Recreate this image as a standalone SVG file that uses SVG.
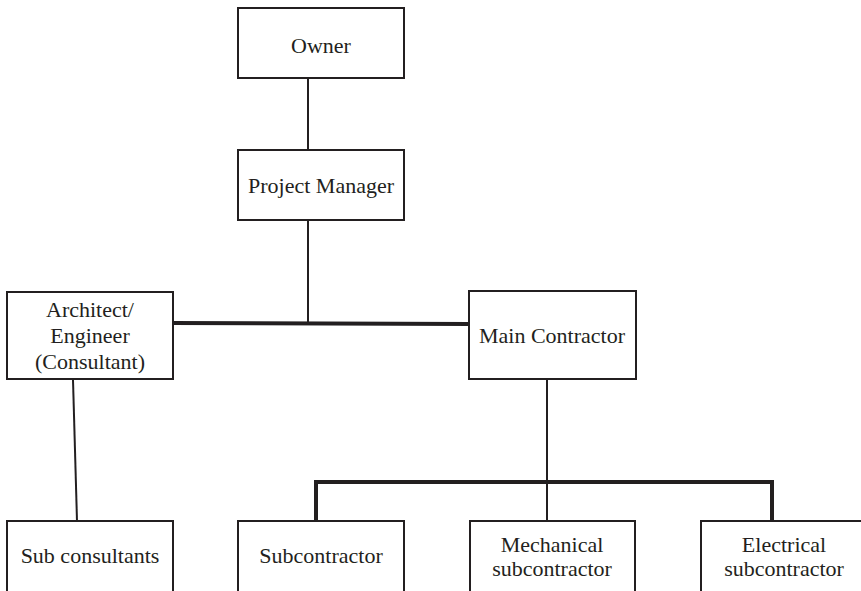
<svg xmlns="http://www.w3.org/2000/svg" width="861" height="591" viewBox="0 0 861 591">
<style>
.box{fill:#fff;stroke:#231f20;stroke-width:2}
.t{font-family:'Liberation Serif','Times New Roman',serif;font-size:22px;fill:#231f20;text-anchor:middle}
.thin{stroke:#231f20;stroke-width:2;fill:none}
.thick{stroke:#231f20;stroke-width:4;fill:none}
</style>
<rect width="861" height="591" fill="#fff"/>
<g id="connectors">
<line class="thin" x1="308" y1="78" x2="308" y2="150"/>
<line class="thin" x1="308" y1="220" x2="308" y2="323"/>
<line class="thick" x1="172" y1="323" x2="470" y2="324"/>
<line class="thin" x1="73" y1="380" x2="77" y2="521"/>
<line class="thin" x1="547" y1="380" x2="547" y2="521"/>
<polyline class="thick" points="316,521 316,482 772,482 772,521"/>
</g>
<g id="owner">
<rect class="box" x="238" y="8" width="166" height="70"/>
<text class="t" x="321" y="53">Owner</text>
</g>
<g id="project-manager">
<rect class="box" x="238" y="150" width="166" height="70"/>
<text class="t" x="321" y="193">Project Manager</text>
</g>
<g id="architect">
<rect class="box" x="7" y="292" width="166" height="87"/>
<text class="t" x="90" y="317">Architect/</text>
<text class="t" x="90" y="343">Engineer</text>
<text class="t" x="90" y="369">(Consultant)</text>
</g>
<g id="main-contractor">
<rect class="box" x="469" y="291" width="167" height="88"/>
<text class="t" x="552" y="343">Main Contractor</text>
</g>
<g id="sub-consultants">
<rect class="box" x="7" y="521" width="166" height="80"/>
<text class="t" x="90" y="563">Sub consultants</text>
</g>
<g id="subcontractor">
<rect class="box" x="238" y="521" width="166" height="80"/>
<text class="t" x="321" y="563">Subcontractor</text>
</g>
<g id="mechanical">
<rect class="box" x="470" y="521" width="165" height="80"/>
<text class="t" x="552" y="552">Mechanical</text>
<text class="t" x="552" y="576">subcontractor</text>
</g>
<g id="electrical">
<rect class="box" x="701" y="521" width="166" height="80"/>
<text class="t" x="784" y="552">Electrical</text>
<text class="t" x="784" y="576">subcontractor</text>
</g>
</svg>
